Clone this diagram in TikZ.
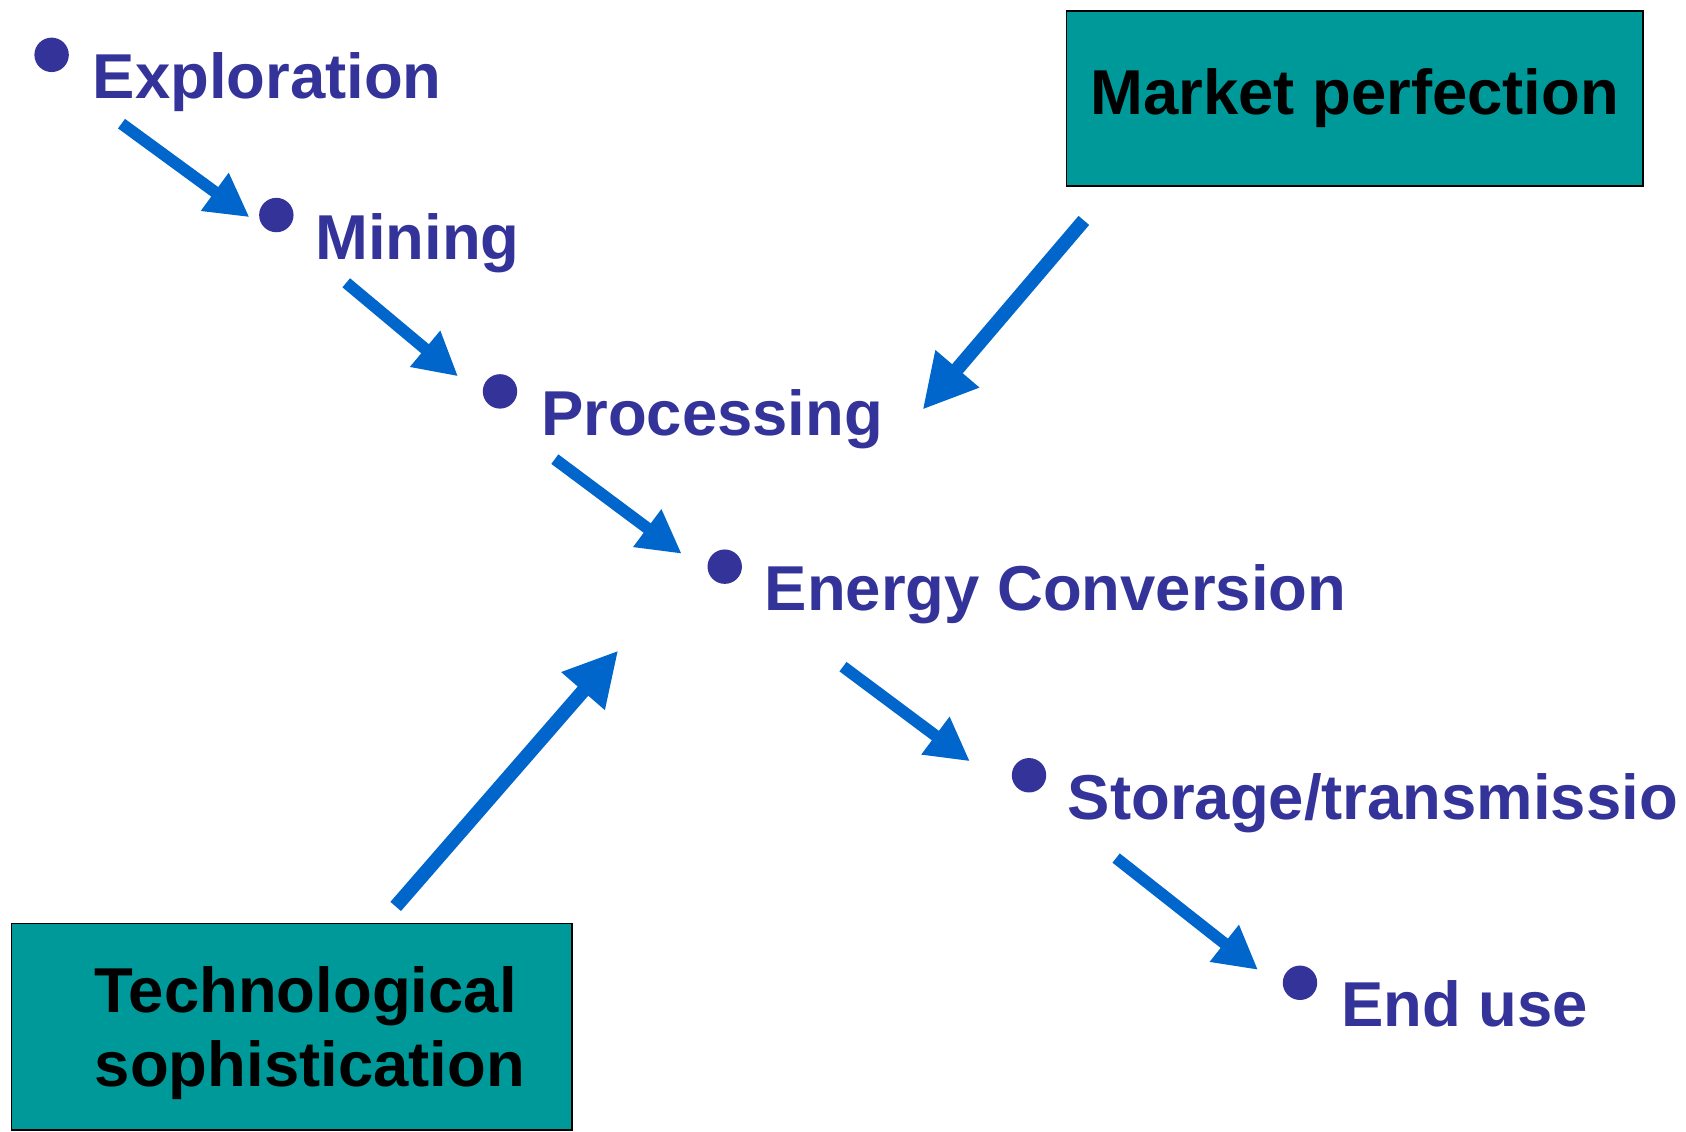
\documentclass[tikz,border=0pt]{standalone}
\usepackage{fontspec}
\setmainfont{Liberation Sans}
\usetikzlibrary{arrows.meta}
\definecolor{stepblue}{HTML}{333399}
\definecolor{flowblue}{HTML}{0066CC}
\definecolor{boxteal}{HTML}{009999}

\begin{document}
\begin{tikzpicture}[x=1pt,y=-1pt,
  dot/.style={circle,fill=stepblue,inner sep=0pt,minimum size=32pt},
  stage/.style={anchor=base west,inner sep=0pt,text=stepblue,
    font=\fontsize{59}{68}\selectfont\bfseries},
  flow/.style={draw=flowblue,line width=11pt,-{Triangle[length=40pt,width=41pt]}},
  bigflow/.style={draw=flowblue,line width=13pt,-{Triangle[length=50pt,width=50pt]}},
  factor/.style={draw=black,line width=1.5pt,fill=boxteal,inner sep=0pt},
  factortext/.style={inner sep=0pt,text=black,align=left,
    font=\fontsize{59}{68}\selectfont\bfseries}
]
\useasboundingbox (0,0) rectangle (1568,1052);

% chain of stages
\node[dot] (d1) at (48,51) {};
\node[stage] (s1) at (86,92) {Exploration};
\node[dot] (d2) at (257,200) {};
\node[stage] (s2) at (293,241) {Mining};
\node[dot] (d3) at (465,364) {};
\node[stage] (s3) at (503,405) {Processing};
\node[dot] (d4) at (674,527) {};
\node[stage] (s4) at (711,568) {Energy Conversion};
\node[dot] (d5) at (957,721) {};
\node[stage] (s5) at (993,762) {Storage/transmissio};
\node[dot] (d6) at (1209,914) {};
\node[stage] (s6) at (1247,955) {End use};

% arrows between stages
\coordinate (a1s) at (113,115);  \coordinate (a1e) at (232,202);
\coordinate (a2s) at (322,263);  \coordinate (a2e) at (426,350);
\coordinate (a3s) at (516,427);  \coordinate (a3e) at (634,515);
\coordinate (a4s) at (784,620);  \coordinate (a4e) at (902,708);
\coordinate (a5s) at (1038,798); \coordinate (a5e) at (1170,902);
\draw[flow] (a1s) -- (a1e);
\draw[flow] (a2s) -- (a2e);
\draw[flow] (a3s) -- (a3e);
\draw[flow] (a4s) -- (a4e);
\draw[flow] (a5s) -- (a5e);

% driving factors
\node[factor,minimum width=536pt,minimum height=163pt,
  font=\fontsize{59}{68}\selectfont\bfseries] (market) at (1260,91.5) {Market perfection};
\node[factor,minimum width=521pt,minimum height=192pt,anchor=north west] (tech) at (10,858) {};
% the base anchor of a two-line label sits on its last line
\node[factortext,anchor=base west] (techlabel) at (88,1010) {Technological\\sophistication};

\coordinate (m1) at (1008,205); \coordinate (m2) at (858,381);
\coordinate (t1) at (368,843);  \coordinate (t2) at (575,605);
\draw[bigflow] (m1) -- (m2);
\draw[bigflow] (t1) -- (t2);
\end{tikzpicture}
\end{document}
